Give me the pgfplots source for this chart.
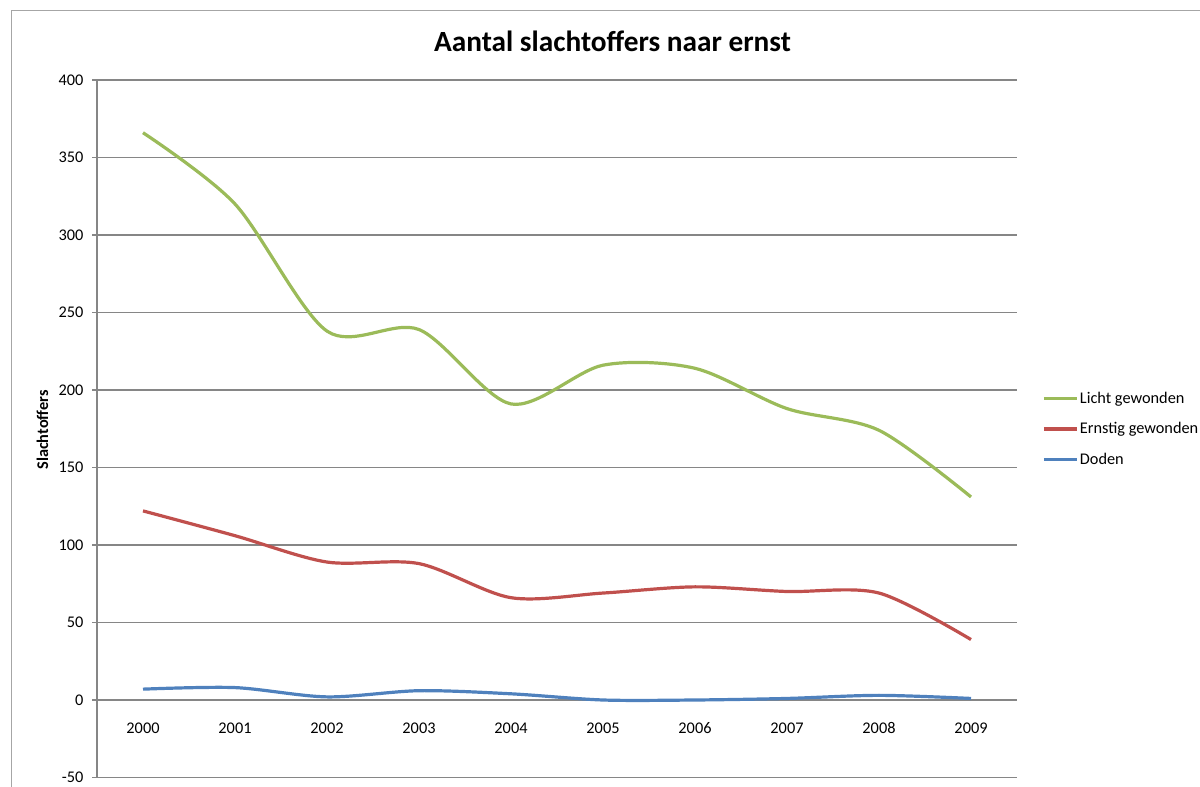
\documentclass[border=0pt]{standalone}
\usepackage{fontspec}
\setmainfont{Carlito}
\usepackage{pgfplots}
\pgfplotsset{compat=1.18}

\definecolor{licht}{HTML}{9BBB59}
\definecolor{ernstig}{HTML}{C0504D}
\definecolor{doden}{HTML}{4F81BD}
\definecolor{gridgray}{RGB}{134,134,134}
\definecolor{framegray}{RGB}{166,166,166}

\newcommand{\tickfont}{\fontsize{16.3bp}{19bp}\selectfont}

\begin{document}
\begin{tikzpicture}
\clip (0,0) rectangle (1200bp,787bp);
% chart frame (only top and left edges fall inside the picture)
\draw[framegray, line width=1.5bp] (11.5bp,-50bp) -- (11.5bp,776.5bp) -- (1300bp,776.5bp);

\begin{axis}[
  at={(97bp,9.5bp)}, anchor=south west,
  scale only axis, width=920bp, height=697.5bp,
  xmin=-0.5, xmax=9.5,
  ymin=-50, ymax=400,
  ytick={-50,0,...,400},
  xtick={0,...,9},
  xticklabels={2000,2001,2002,2003,2004,2005,2006,2007,2008,2009},
  axis x line=middle, axis y line=left,
  axis line style={-},
  x axis line style={draw=gridgray, line width=2bp},
  y axis line style={draw=gridgray, line width=1.2bp},
  hide obscured x ticks=false, hide obscured y ticks=false,
  ymajorgrids,
  grid style={draw=gridgray, line width=1.1bp},
  xtick style={draw=none},
  ytick style={draw=gridgray, line width=1.2bp},
  tick align=outside, major tick length=5bp,
  /pgf/number format/assume math mode=true,
  ticklabel style={font=\tickfont},
  yticklabel style={anchor=east, xshift=-5bp},
  xticklabel style={anchor=base, yshift=-28bp},
  legend style={at={(rel axis cs:1.0272,0.4996)}, anchor=west,
    draw=none, fill=none, inner sep=0pt, row sep=14.5bp,
    font=\tickfont, nodes={inner sep=1.5bp}},
  legend cell align=left,
  legend image code/.code={\draw[#1] (0bp,0bp) -- (33bp,0bp);},
  every axis plot/.append style={line width=3.2bp, smooth, tension=0.5},
]
\addplot[licht] coordinates {
  (0,366) (1,320) (2,238) (3,239) (4,191)
  (5,216) (6,214) (7,188) (8,174) (9,131)
};
\addplot[ernstig] coordinates {
  (0,122) (1,106) (2,89) (3,88) (4,66)
  (5,69) (6,73) (7,70) (8,69) (9,39)
};
\addplot[doden] coordinates {
  (0,7) (1,8) (2,2) (3,6) (4,4)
  (5,0) (6,0) (7,1) (8,3) (9,1)
};
\legend{Licht gewonden, Ernstig gewonden, Doden}
\end{axis}

\node[anchor=base, font=\fontsize{29.3bp}{34bp}\selectfont\bfseries]
  at (612.5bp,735bp) {Aantal slachtoffers naar ernst};
\node[rotate=90, font=\tickfont\bfseries] at (42.5bp,357bp) {Slachtoffers};
\end{tikzpicture}
\end{document}
